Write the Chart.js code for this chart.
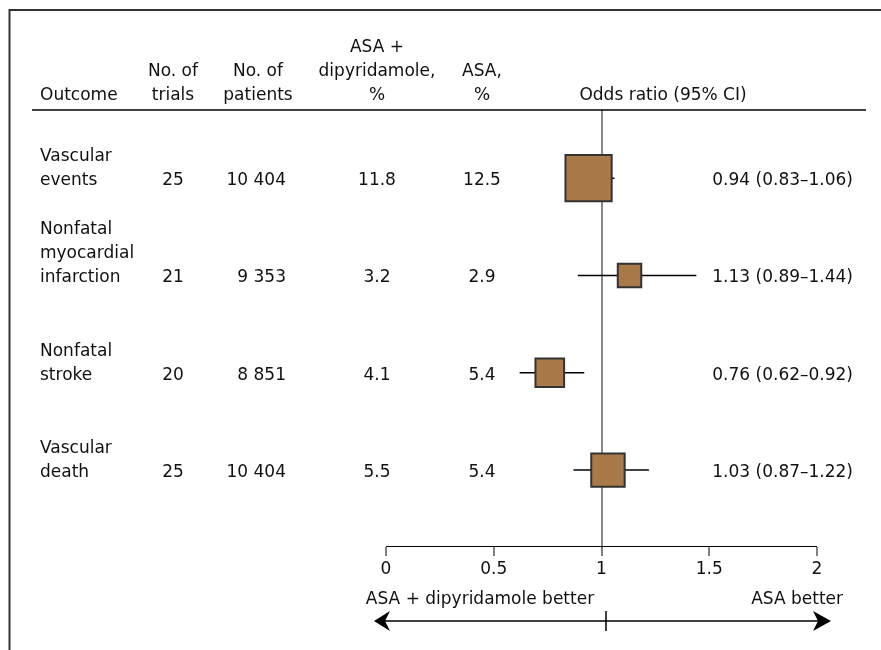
<!DOCTYPE html>
<html>
<head>
<meta charset="utf-8">
<script src="https://cdn.jsdelivr.net/npm/chart.js@4.4.1/dist/chart.umd.min.js"></script>
<style>
html, body { margin: 0; padding: 0; background: #fff; }
#wrap { width: 881px; height: 650px; position: relative; }
</style>
</head>
<body>
<div id="wrap"><canvas id="forest"></canvas></div>
<script>
// table data
var outcomes = [['Vascular', 'events'], ['Nonfatal', 'myocardial', 'infarction'], ['Nonfatal', 'stroke'], ['Vascular', 'death']];
var trials = ['25', '21', '20', '25'];
var patients = ['10 404', '9 353', '8 851', '10 404'];
var pctCombo = ['11.8', '3.2', '4.1', '5.5'];
var pctAsa = ['12.5', '2.9', '5.4', '5.4'];

// odds ratios and 95% CI
var oddsRatio = [0.94, 1.13, 0.76, 1.03];
var ciLow = [0.83, 0.89, 0.62, 0.87];
var ciHigh = [1.06, 1.44, 0.92, 1.22];

var tickValues = [0, 0.5, 1, 1.5, 2];

var FONT = '"DejaVu Sans", sans-serif';
var TEXT = '#111';

function fmt(v) { return v.toFixed(2); }

// box side shrinks as the CI widens (inverse of log CI width)
function boxSide(i) {
    return 11.3 / Math.log(ciHigh[i] / ciLow[i]);
}

var datasets = [
    {
        label: 'Odds ratio',
        data: oddsRatio.map(function (v, i) { return { x: v, y: i }; }),
        pointStyle: 'rect',
        pointRadius: function (ctx) { return boxSide(ctx.dataIndex) / Math.SQRT2; },
        pointHoverRadius: function (ctx) { return boxSide(ctx.dataIndex) / Math.SQRT2; },
        backgroundColor: '#a87a4a',
        borderColor: '#333',
        pointBorderWidth: 2,
        showLine: false
    }
];
oddsRatio.forEach(function (v, i) {
    datasets.push({
        label: 'CI ' + i,
        data: [{ x: ciLow[i], y: i }, { x: ciHigh[i], y: i }],
        borderColor: '#000',
        borderWidth: 1.5,
        pointRadius: 0,
        showLine: true
    });
});

function line(ctx, x1, y1, x2, y2, w, c) {
    ctx.beginPath();
    ctx.lineWidth = w;
    ctx.strokeStyle = c;
    ctx.moveTo(x1, y1);
    ctx.lineTo(x2, y2);
    ctx.stroke();
}

function text(ctx, s, x, y, align) {
    ctx.textAlign = align;
    ctx.fillText(s, x, y);
}

// table, frame and arrow drawn around the plot
var tablePlugin = {
    id: 'tablePlugin',
    afterDraw: function (chart) {
        var ctx = chart.ctx;
        var ys = chart.scales.y;
        ctx.save();

        // frame
        line(ctx, 9, 10, 881, 10, 2, '#333');
        line(ctx, 9.5, 9, 9.5, 650, 2, '#333');

        // header rule
        line(ctx, 32, 110, 866, 110, 1.5, '#000');

        ctx.fillStyle = TEXT;
        ctx.font = '17px ' + FONT;
        ctx.textBaseline = 'alphabetic';

        // headers
        text(ctx, 'Outcome', 40, 100, 'left');
        text(ctx, 'No. of', 173, 76, 'center');
        text(ctx, 'trials', 173, 100, 'center');
        text(ctx, 'No. of', 258, 76, 'center');
        text(ctx, 'patients', 258, 100, 'center');
        text(ctx, 'ASA +', 377, 52, 'center');
        text(ctx, 'dipyridamole,', 377, 76, 'center');
        text(ctx, '%', 377, 100, 'center');
        text(ctx, 'ASA,', 482, 76, 'center');
        text(ctx, '%', 482, 100, 'center');
        text(ctx, 'Odds ratio (95% CI)', 663, 100, 'center');

        // rows
        outcomes.forEach(function (lines, i) {
            var base = ys.getPixelForValue(i) + 7;
            lines.forEach(function (s, k) {
                text(ctx, s, 40, base - (lines.length - 1 - k) * 24, 'left');
            });
            text(ctx, trials[i], 173, base, 'center');
            text(ctx, patients[i], 286, base, 'right');
            text(ctx, pctCombo[i], 377, base, 'center');
            text(ctx, pctAsa[i], 482, base, 'center');
            text(ctx, fmt(oddsRatio[i]) + ' (' + fmt(ciLow[i]) + '\u2013' + fmt(ciHigh[i]) + ')', 853, base, 'right');
        });

        // direction labels
        text(ctx, 'ASA + dipyridamole better', 480, 604, 'center');
        text(ctx, 'ASA better', 843, 604, 'right');

        // double arrow
        var ay = 621;
        line(ctx, 384, ay, 820, ay, 1.5, '#000');
        line(ctx, 606, 611, 606, 631, 1.5, '#000');
        ctx.fillStyle = '#000';
        ctx.beginPath();
        ctx.moveTo(374, ay);
        ctx.lineTo(390, ay - 10);
        ctx.lineTo(385, ay);
        ctx.lineTo(390, ay + 10);
        ctx.closePath();
        ctx.fill();
        ctx.beginPath();
        ctx.moveTo(831, ay);
        ctx.lineTo(813, ay - 10);
        ctx.lineTo(818, ay);
        ctx.lineTo(813, ay + 10);
        ctx.closePath();
        ctx.fill();

        ctx.restore();
    }
};

new Chart(document.getElementById('forest'), {
    type: 'scatter',
    data: { datasets: datasets },
    options: {
        responsive: true,
        maintainAspectRatio: false,
        animation: false,
        layout: { padding: { left: 386, right: 64, top: 110, bottom: 0 } },
        plugins: {
            legend: { display: false },
            tooltip: { enabled: false }
        },
        scales: {
            x: {
                type: 'linear',
                min: 0,
                max: 2,
                afterBuildTicks: function (scale) {
                    scale.ticks = tickValues.map(function (v) { return { value: v }; });
                },
                afterFit: function (scale) { scale.height = 104; },
                grid: {
                    drawOnChartArea: true,
                    color: function (ctx) { return ctx.tick && ctx.tick.value === 1 ? '#8a8a8a' : 'rgba(0,0,0,0)'; },
                    lineWidth: function (ctx) { return ctx.tick && ctx.tick.value === 1 ? 2 : 0; },
                    drawTicks: true,
                    tickLength: 10,
                    tickColor: '#000',
                    tickWidth: 1
                },
                border: { display: true, color: '#000', width: 1 },
                ticks: {
                    color: TEXT,
                    font: { family: FONT, size: 17 },
                    padding: 3,
                    maxRotation: 0,
                    autoSkip: false,
                    callback: function (v) { return String(v); }
                }
            },
            y: {
                type: 'linear',
                reverse: true,
                min: -0.7,
                max: 3.78,
                display: false
            }
        }
    },
    plugins: [tablePlugin]
});
</script>
</body>
</html>
